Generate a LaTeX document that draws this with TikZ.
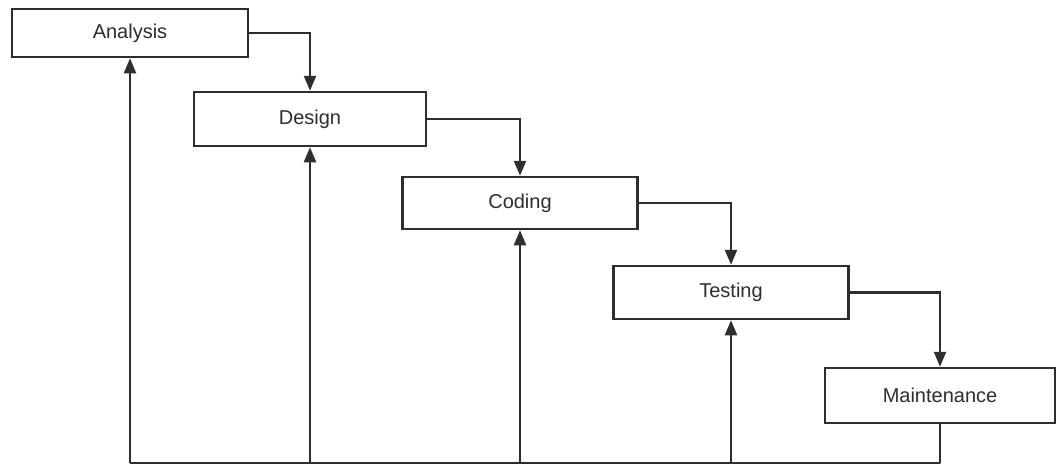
\documentclass[tikz,border=0pt]{standalone}
\usepackage{fontspec}
\setmainfont{Liberation Sans}
\usetikzlibrary{arrows.meta}
\definecolor{ln}{HTML}{2E2E2E}
\begin{document}
\begin{tikzpicture}[x=1pt,y=-1pt,
  phase/.style={draw=ln,line width=2.5pt,fill=white,rectangle,inner sep=0pt,
    font=\fontsize{20}{24}\selectfont,text=ln},
  link/.style={draw=ln,line width=2.3pt,-{Triangle[length=15pt,width=12pt]}},
  plain/.style={draw=ln,line width=2.3pt}]
\useasboundingbox (0,0) rectangle (1056,467);
\node[phase,minimum width=236pt,minimum height=48pt] (A) at (130,33) {Analysis};
\node[phase,minimum width=232pt,minimum height=54pt] (D) at (310,119) {Design};
\node[phase,minimum width=235pt,minimum height=52pt] (C) at (520,203) {Coding};
\node[phase,minimum width=235pt,minimum height=53pt] (T) at (731,292.5) {Testing};
\node[phase,minimum width=230pt,minimum height=55pt] (M) at (940,395.5) {Maintenance};
\coordinate (base) at (0,463);
\draw[link] (A.east) -| (D.north);
\draw[link] (D.east) -| (C.north);
\draw[link] (C.east) -| (T.north);
\draw[link] (T.east) -| (M.north);
\draw[plain,line join=round] (M.south) |- (A.south |- base);
\draw[link] (A.south |- base) -- (A.south);
\draw[link] (D.south |- base) -- (D.south);
\draw[link] (C.south |- base) -- (C.south);
\draw[link] (T.south |- base) -- (T.south);
\end{tikzpicture}
\end{document}
